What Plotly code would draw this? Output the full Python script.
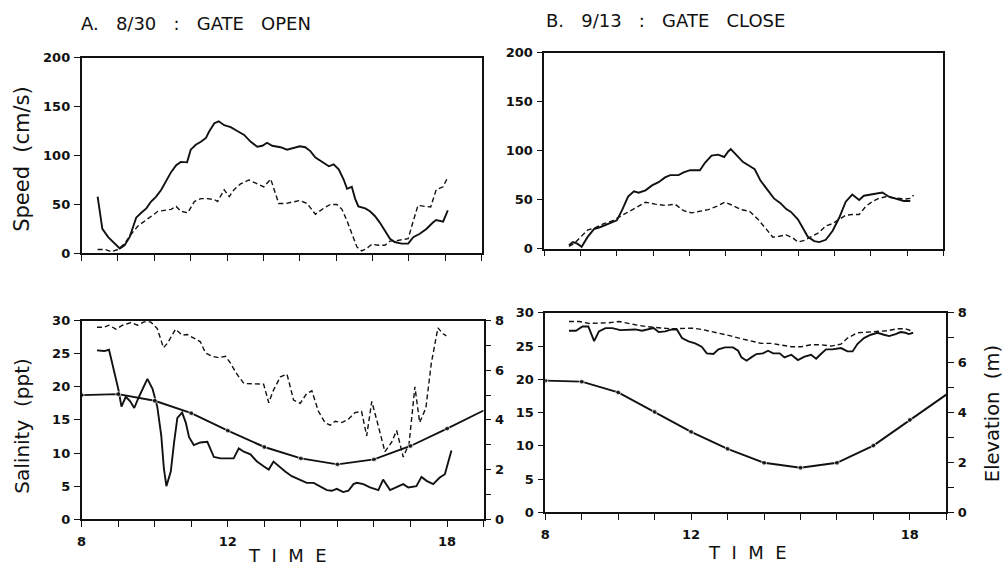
import plotly.graph_objects as go

# ---------------- DATA ----------------
a_spd_solid_t = [8.44, 8.57, 8.73, 8.91, 9.05, 9.18, 9.32, 9.41, 9.5, 9.64, 9.78, 9.91, 10.05, 10.19, 10.32,
                 10.46, 10.6, 10.73, 10.9, 11.0, 11.14, 11.28, 11.42, 11.5, 11.65, 11.77, 11.92, 12.1, 12.28,
                 12.47, 12.65, 12.83, 12.97, 13.1, 13.24, 13.47, 13.65, 13.83, 14.0, 14.15, 14.29, 14.43,
                 14.61, 14.8, 14.93, 15.07, 15.2, 15.3, 15.43, 15.52, 15.61, 15.8, 15.93, 16.07, 16.2, 16.34,
                 16.48, 16.61, 16.8, 16.98, 17.12, 17.3, 17.48, 17.66, 17.75, 17.94, 18.07]
a_spd_solid = [58, 25, 16.6, 10, 5, 8.3, 16.6, 26.5, 36.5, 41.5, 46, 53, 58, 65, 73,
               83, 90, 93.5, 93, 106, 111, 114, 118, 124, 133, 135, 131, 129, 125,
               121, 114, 109, 110, 113, 110, 108.5, 106, 108, 109.5, 108.5, 104.5, 98,
               93.5, 89, 91, 86, 76, 66, 68, 56, 48, 46, 43, 38, 31.5, 23,
               15, 11.6, 10, 10, 16.6, 20, 25, 31.5, 34, 32.5, 44]
a_spd_dash_t = [8.44, 8.64, 8.82, 9.0, 9.18, 9.37, 9.55, 9.73, 9.91, 10.1, 10.28, 10.46, 10.6, 10.73, 10.92,
                11.1, 11.28, 11.46, 11.65, 11.74, 11.92, 12.06, 12.19, 12.37, 12.6, 12.83, 13.01, 13.2,
                13.29, 13.42, 13.61, 13.83, 14.0, 14.2, 14.43, 14.65, 14.84, 15.02, 15.16, 15.3, 15.43,
                15.57, 15.7, 15.84, 15.98, 16.16, 16.34, 16.48, 16.66, 16.84, 16.98, 17.12, 17.25, 17.44,
                17.6, 17.75, 17.94, 18.07]
a_spd_dash = [4, 4, 1.7, 4, 10, 20, 28, 33, 38, 43, 44, 45, 48, 43, 41.5,
              53, 56, 56, 55, 53, 65, 58, 65, 71, 75, 71, 68, 76,
              66, 51, 51, 53, 54, 51, 40, 46, 50, 50, 45, 33, 20,
              6.6, 2.6, 5, 9.3, 8.3, 8.3, 12.6, 13, 14, 15, 33, 49, 48,
              47.5, 65, 68, 78]

b_spd_solid_t = [8.68, 8.79, 8.91, 9.03, 9.19, 9.37, 9.55, 9.74, 10.0, 10.15, 10.31, 10.47, 10.6, 10.79, 10.97,
                 11.15, 11.33, 11.47, 11.7, 11.84, 12.02, 12.29, 12.43, 12.61, 12.79, 12.96, 13.07, 13.14,
                 13.3, 13.48, 13.66, 13.8, 13.96, 14.16, 14.33, 14.51, 14.67, 14.8, 14.99, 15.12, 15.26,
                 15.44, 15.58, 15.76, 15.95, 16.13, 16.31, 16.49, 16.68, 16.81, 17.0, 17.18, 17.32, 17.5,
                 17.73, 17.91, 18.09]
b_spd_solid = [3.3, 6.6, 5, 1.7, 11.6, 19.8, 22, 24.8, 28.8, 39.7, 53, 58.5, 57, 59.5, 64.5,
               67.8, 72.7, 75, 75, 77.7, 80, 80, 87.6, 94.9, 95.9, 93.5, 99.2, 101.5,
               94.9, 88.3, 84.3, 81, 69.4, 59.5, 51.2, 46.3, 40.3, 37.4, 29.8, 21.5, 12.2,
               7.6, 6.6, 8.9, 18.2, 31.4, 47.9, 55.2, 49.6, 53.9, 55.2, 56.2, 57.2, 52.9,
               50.6, 48.6, 48.6]
b_spd_dash_t = [8.68, 8.82, 9.0, 9.19, 9.42, 9.64, 9.87, 10.1, 10.33, 10.56, 10.79, 11.06, 11.33, 11.6, 11.84,
                12.06, 12.29, 12.52, 12.75, 12.98, 13.2, 13.43, 13.66, 13.89, 14.12, 14.3, 14.48, 14.67,
                14.85, 14.99, 15.17, 15.35, 15.58, 15.76, 15.95, 16.13, 16.31, 16.49, 16.68, 16.86, 17.04,
                17.22, 17.41, 17.59, 17.77, 17.95, 18.09, 18.18]
b_spd_dash = [2.3, 5, 11.6, 18.8, 21.5, 25.5, 28.1, 33, 38, 43, 47.3, 45.3, 44, 45.3, 38.7,
              36.4, 38, 39.7, 43, 47.3, 44, 39.7, 38, 29.8, 19.8, 11.6, 12.6, 13.9,
              10.9, 6.6, 8.3, 12.2, 16.5, 23.1, 25.5, 29.8, 34, 34.7, 34.7, 43, 47.9,
              51.2, 52.9, 51.9, 51.2, 50.6, 51.2, 54.5]

a_sal_solid_t = [8.42, 8.62, 8.75, 8.89, 9.01, 9.09, 9.21, 9.33, 9.44, 9.57, 9.71, 9.8, 9.94, 10.07, 10.18,
                 10.25, 10.32, 10.44, 10.53, 10.62, 10.75, 10.85, 10.94, 11.07, 11.25, 11.44, 11.62, 11.8,
                 11.98, 12.16, 12.3, 12.44, 12.62, 12.8, 12.98, 13.12, 13.25, 13.39, 13.57, 13.75, 13.98,
                 14.16, 14.35, 14.53, 14.71, 14.85, 14.98, 15.16, 15.3, 15.44, 15.53, 15.71, 15.89, 16.12,
                 16.25, 16.44, 16.62, 16.8, 16.94, 17.16, 17.3, 17.44, 17.62, 17.8, 17.94, 18.12]
a_sal_solid = [25.5, 25.4, 25.6, 22.4, 19.5, 17, 18.5, 17.8, 16.8, 18.5, 20.2, 21.2, 19.7, 17, 12.6,
               7.7, 5, 7.2, 11.6, 15.3, 16.1, 14.6, 12.4, 11.2, 11.6, 11.7, 9.4, 9.2,
               9.2, 9.2, 10.7, 10.2, 9.8, 8.7, 8.0, 7.5, 8.7, 8.0, 7.2, 6.5, 6.0,
               5.5, 5.5, 5.0, 4.4, 4.3, 4.6, 4.1, 4.3, 5.3, 5.5, 5.3, 4.8, 4.4,
               6.0, 4.4, 4.8, 5.3, 4.8, 5.0, 6.4, 5.8, 5.3, 6.3, 6.8, 10.4]
a_sal_dash_t = [8.42, 8.62, 8.75, 8.94, 9.12, 9.35, 9.53, 9.71, 9.89, 10.07, 10.24, 10.35, 10.57, 10.75, 10.89,
                11.07, 11.25, 11.39, 11.57, 11.75, 11.94, 12.07, 12.25, 12.44, 12.62, 12.8, 12.98, 13.12,
                13.25, 13.44, 13.62, 13.8, 13.98, 14.16, 14.3, 14.48, 14.66, 14.8, 14.94, 15.12, 15.3,
                15.48, 15.66, 15.8, 15.94, 16.07, 16.3, 16.48, 16.62, 16.8, 16.96, 17.12, 17.25, 17.42,
                17.57, 17.75, 17.89, 17.98]
a_sal_dash = [29, 29, 29.3, 28.7, 29.3, 29.7, 29.3, 29.8, 29.8, 28.8, 25.9, 26.6, 28.7, 27.8, 27.9,
              27.3, 26.8, 25.1, 24.6, 24.4, 24.6, 23.6, 21.9, 20.5, 20.5, 20.5, 20.4, 17.6,
              19.5, 21.5, 21.9, 18, 17.5, 19, 19.4, 16.3, 14.6, 14.2, 14.8, 14.6, 15.1,
              16.1, 16.3, 12.6, 17.8, 15.1, 10.2, 11.6, 13.4, 9.4, 11.4, 20, 14.6, 16.8,
              23.6, 28.9, 28, 27.7]

b_sal_solid_t = [8.65, 8.84, 9.02, 9.18, 9.34, 9.47, 9.65, 9.84, 10.06, 10.29, 10.47, 10.65, 10.84, 10.97, 11.11,
                 11.29, 11.47, 11.61, 11.75, 11.93, 12.11, 12.29, 12.43, 12.61, 12.75, 12.93, 13.15, 13.29,
                 13.38, 13.52, 13.65, 13.79, 13.97, 14.11, 14.25, 14.43, 14.56, 14.75, 14.93, 15.11, 15.29,
                 15.43, 15.56, 15.7, 15.88, 16.11, 16.29, 16.43, 16.56, 16.74, 16.93, 17.11, 17.29, 17.43,
                 17.61, 17.75, 17.88, 17.97, 18.09]
b_sal_solid = [27.3, 27.3, 27.95, 27.95, 25.75, 27.2, 27.7, 27.7, 27.4, 27.4, 27.5, 27.3, 27.5, 27.7, 27.1,
               27.2, 27.5, 27.5, 26.2, 25.7, 25.4, 24.9, 23.9, 23.8, 24.5, 24.8, 24.8, 24.3,
               23.3, 22.8, 23.3, 23.8, 23.9, 24.3, 23.9, 23.9, 23.3, 23.7, 22.9, 23.4, 23.7,
               23.1, 23.8, 24.5, 24.5, 24.7, 24.2, 24.2, 25.3, 26.2, 26.7, 27.0, 26.7, 26.5,
               26.8, 27.1, 27.0, 26.8, 27.0]
b_sal_dash_t = [8.65, 8.93, 9.2, 9.47, 9.75, 10.02, 10.25, 10.47, 10.75, 10.97, 11.2, 11.47, 11.75, 12.02, 12.29,
                12.56, 12.84, 13.11, 13.38, 13.65, 13.93, 14.2, 14.47, 14.75, 15.02, 15.29, 15.56, 15.84,
                16.11, 16.29, 16.56, 16.84, 17.11, 17.38, 17.65, 17.88, 18.09]
b_sal_dash = [28.7, 28.7, 28.4, 28.4, 28.5, 28.7, 28.4, 28.2, 27.95, 27.8, 27.7, 27.6, 27.6, 27.7, 27.5,
              27.2, 26.9, 26.5, 26.1, 25.7, 25.4, 25.4, 25.1, 24.9, 24.9, 25.2, 25.2, 25.0,
              25.3, 26.2, 27.0, 27.1, 27.1, 27.3, 27.6, 27.6, 27.2]

elev_t = [8, 9, 10, 11, 12, 13, 14, 15, 16, 17, 18, 19]
a_elev = [5.0, 5.04, 4.77, 4.27, 3.57, 2.91, 2.45, 2.21, 2.41, 2.95, 3.65, 4.38]
b_elev = [5.28, 5.24, 4.81, 4.03, 3.23, 2.55, 1.99, 1.79, 1.99, 2.68, 3.71, 4.72]

hour_ticks = list(range(8, 20))
hour_labels = ["8", "", "", "", "12", "", "", "", "", "", "18", ""]
sal_ticks = [0, 5, 10, 15, 20, 25, 30]
spd_ticks = [0, 50, 100, 150, 200]
elev_ticks = [0, 1, 2, 3, 4, 5, 6, 7, 8]
elev_labels = ["0", "", "2", "", "4", "", "6", "", "8"]

titles = ["A.   8/30   :   GATE   OPEN", "B.   9/13   :   GATE   CLOSE"]

# ---------------- FIGURE ----------------
W, H = 1007, 574
FONT = "DejaVu Sans, Liberation Sans, sans-serif"
BLACK = "#111111"

def fx(p):
    return p / W

def fy(p):
    return 1 - p / H

fig = go.Figure()

solid = dict(color=BLACK, width=1.9)
dashed = dict(color=BLACK, width=1.4, dash="5px,3px")

fig.add_trace(go.Scatter(x=a_spd_solid_t, y=a_spd_solid, mode="lines", line=solid, xaxis="x", yaxis="y"))
fig.add_trace(go.Scatter(x=a_spd_dash_t, y=a_spd_dash, mode="lines", line=dashed, xaxis="x", yaxis="y"))
fig.add_trace(go.Scatter(x=b_spd_solid_t, y=b_spd_solid, mode="lines", line=solid, xaxis="x2", yaxis="y2"))
fig.add_trace(go.Scatter(x=b_spd_dash_t, y=b_spd_dash, mode="lines", line=dashed, xaxis="x2", yaxis="y2"))
fig.add_trace(go.Scatter(x=a_sal_solid_t, y=a_sal_solid, mode="lines", line=solid, xaxis="x3", yaxis="y3"))
fig.add_trace(go.Scatter(x=a_sal_dash_t, y=a_sal_dash, mode="lines", line=dashed, xaxis="x3", yaxis="y3"))
fig.add_trace(go.Scatter(x=b_sal_solid_t, y=b_sal_solid, mode="lines", line=solid, xaxis="x4", yaxis="y4"))
fig.add_trace(go.Scatter(x=b_sal_dash_t, y=b_sal_dash, mode="lines", line=dashed, xaxis="x4", yaxis="y4"))

msizes = [5] * (len(elev_t) - 1) + [0]
fig.add_trace(go.Scatter(x=elev_t, y=a_elev, mode="lines+markers", line=solid,
                         marker=dict(size=msizes, color=BLACK), xaxis="x3", yaxis="y5"))
fig.add_trace(go.Scatter(x=elev_t, y=b_elev, mode="lines+markers", line=solid,
                         marker=dict(size=msizes, color=BLACK), xaxis="x4", yaxis="y6"))

tickfont = dict(family=FONT, size=13, color=BLACK, weight="bold")
common_ax = dict(showline=True, linecolor=BLACK, linewidth=1.6, ticks="outside", ticklen=6,
                 tickwidth=1.4, tickcolor=BLACK, showgrid=False, zeroline=False, tickfont=tickfont,
                 fixedrange=True)

boxes = {
    "1": (77, 479, 52, 253),
    "2": (542, 943, 47, 248),
    "3": (77, 481, 322, 526),
    "4": (543, 946, 314, 519),
}

layout_axes = {}
for k, (l, r, t, b) in boxes.items():
    xname = "xaxis" if k == "1" else f"xaxis{k}"
    yname = "yaxis" if k == "1" else f"yaxis{k}"
    yref = "y" if k == "1" else f"y{k}"
    xref = "x" if k == "1" else f"x{k}"
    bottom = k in ("3", "4")
    layout_axes[xname] = dict(common_ax, domain=[fx(l), fx(r)], range=[8, 19], anchor=yref,
                              mirror=True, tickvals=hour_ticks,
                              ticktext=hour_labels if bottom else [""] * len(hour_ticks),
                              showticklabels=bottom, ticklabelstandoff=3)
    if bottom:
        layout_axes[yname] = dict(common_ax, domain=[fy(b), fy(t)], range=[0, 30], anchor=xref,
                                  mirror=True, tickvals=sal_ticks, ticklabelstandoff=1)
    else:
        layout_axes[yname] = dict(common_ax, domain=[fy(b), fy(t)], range=[0, 200], anchor=xref,
                                  mirror=True, tickvals=spd_ticks, ticklabelstandoff=1)

layout_axes["yaxis5"] = dict(common_ax, overlaying="y3", side="right", anchor="x3", range=[0, 8],
                             tickvals=elev_ticks, ticktext=elev_labels, ticklabelstandoff=1)
layout_axes["yaxis6"] = dict(common_ax, overlaying="y4", side="right", anchor="x4", range=[0, 8],
                             tickvals=elev_ticks, ticktext=elev_labels, ticklabelstandoff=1)

annos = [
    dict(text=titles[0], x=fx(74), y=fy(17), xanchor="left", yanchor="middle", font=dict(size=18)),
    dict(text=titles[1], x=fx(542), y=fy(14), xanchor="left", yanchor="middle", font=dict(size=18)),
    dict(text="Speed  (cm/s)", x=fx(17), y=fy(156), textangle=-90, xanchor="center", yanchor="middle",
         font=dict(size=21)),
    dict(text="Salinity  (ppt)", x=fx(17), y=fy(430), textangle=-90, xanchor="center", yanchor="middle",
         font=dict(size=20)),
    dict(text="Elevation  (m)", x=fx(992), y=fy(418), textangle=-90, xanchor="center", yanchor="middle",
         font=dict(size=19.5)),
    dict(text="T  I  M  E", x=fx(284), y=fy(563), xanchor="center", yanchor="middle", font=dict(size=18)),
    dict(text="T  I  M  E", x=fx(746), y=fy(560), xanchor="center", yanchor="middle", font=dict(size=18)),
]
for a in annos:
    a.update(xref="paper", yref="paper", showarrow=False)
    a["font"].update(family=FONT, color=BLACK)

fig.update_layout(
    width=W, height=H, autosize=False,
    margin=dict(l=0, r=0, t=0, b=0),
    paper_bgcolor="white", plot_bgcolor="white",
    showlegend=False,
    annotations=annos,
    **layout_axes,
)

fig.write_html("out.html", config={"displayModeBar": False},
               post_script="document.body.style.margin='0';document.body.style.overflow='hidden';")
